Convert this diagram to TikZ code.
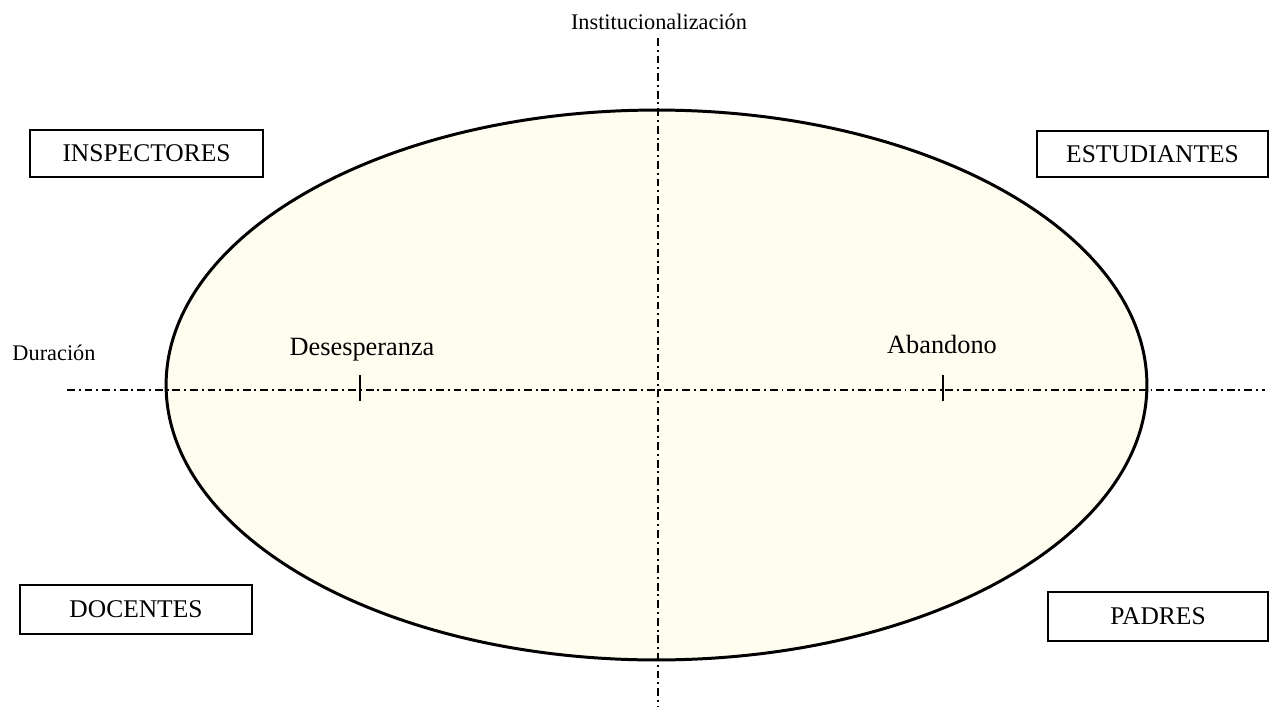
\documentclass[tikz,border=0pt]{standalone}
\usepackage{fontspec}
\setmainfont{Liberation Serif}
\usepackage{tikz}
\usetikzlibrary{calc, positioning}
\definecolor{crema}{RGB}{255,253,240}

\begin{document}
\begin{tikzpicture}[x=0.02cm, y=-0.02cm,
            eje/.style={line width=0.6pt, dash pattern=on 4.5pt off 2.2pt on 1.1pt off 2.2pt},
            actor/.style={draw, line width=0.8pt, font=\fontsize{14.5}{16}\selectfont, inner sep=0pt},
            etiqueta/.style={font=\fontsize{12.7}{14}\selectfont, anchor=base}]
            \useasboundingbox (0, 0) rectangle (1270, 710);
            \filldraw[fill=crema, line width=1.7pt] (656.5, 385) ellipse [x radius=9.81cm, y radius=5.5cm];
            \coordinate (izq) at (67, 390);
            \coordinate (der) at (1265, 390);
            \coordinate (arr) at (658, 38);
            \coordinate (aba) at (658, 706);
            \draw[eje] (izq) -- (der);
            \draw[eje] (arr) -- (aba);
            \draw[line width=0.8pt] (360, 375) -- (360, 401);
            \draw[line width=0.8pt] (943, 375) -- (943, 401);
            \node[etiqueta] (inst) at (659, 30) {Institucionalización};
            \node[etiqueta] (dur) at (54, 360) {Duración};
            \node[etiqueta, font=\fontsize{15}{17}\selectfont] (des) at (362, 355) {Desesperanza};
            \node[etiqueta, font=\fontsize{15}{17}\selectfont] (aban) at (942, 353) {Abandono};
            \node[actor, minimum width=4.66cm, minimum height=0.94cm] (insp) at (146.5, 153.5) {INSPECTORES};
            \node[actor, minimum width=4.62cm, minimum height=0.92cm] (est) at (1152.5, 154) {ESTUDIANTES};
            \node[actor, minimum width=4.64cm, minimum height=0.98cm] (doc) at (136, 609.5) {DOCENTES};
            \node[actor, minimum width=4.4cm, minimum height=0.98cm] (pad) at (1158, 616.5) {PADRES};
        \end{tikzpicture}
\end{document}
